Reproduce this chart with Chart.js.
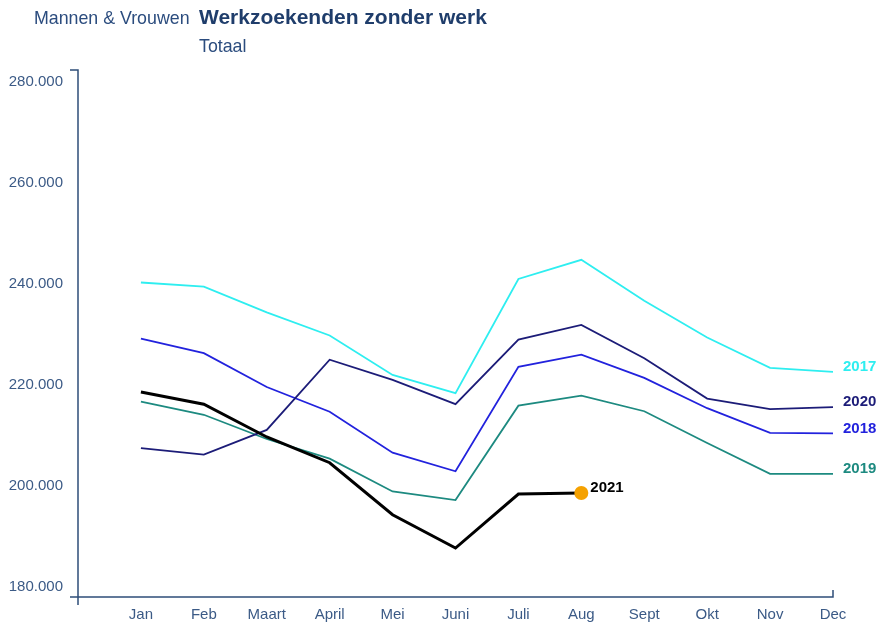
<!DOCTYPE html>
<html>
<head>
<meta charset="utf-8">
<script src="https://cdn.jsdelivr.net/npm/chart.js@4"></script>
<style>
    html, body { margin: 0; padding: 0; background: #fff; }
    #wrap { position: relative; width: 878px; height: 623px; font-family: "Liberation Sans", Arial, sans-serif; }
    #chart { position: absolute; left: 0; top: 0; }
    .t { position: absolute; white-space: nowrap; }
</style>
</head>
<body>
<div id="wrap">
    <canvas id="chart" width="878" height="623"></canvas>
    <div class="t" style="left:34px; top:8px; font-size:17.8px; color:#2b4c7e;">Mannen &amp; Vrouwen</div>
    <div class="t" style="left:199px; top:5px; font-size:21px; font-weight:bold; color:#1f3d6b;">Werkzoekenden zonder werk</div>
    <div class="t" style="left:199px; top:36px; font-size:17.8px; color:#2b4c7e;">Totaal</div>
</div>
<script>
// Month labels (x = 1..12)
const months = ['Jan', 'Feb', 'Maart', 'April', 'Mei', 'Juni', 'Juli', 'Aug', 'Sept', 'Okt', 'Nov', 'Dec'];
const yTicks = [180000, 200000, 220000, 240000, 260000, 280000];

// Werkzoekenden per jaar
const y2017 = [240300, 239500, 234400, 229800, 222000, 218400, 241000, 244800, 236700, 229400, 223400, 222600];
const y2018 = [229200, 226300, 219600, 214700, 206600, 202900, 223600, 226000, 221400, 215400, 210500, 210400];
const y2019 = [216700, 214100, 209300, 205400, 198900, 197200, 215900, 217900, 214800, 208500, 202400, 202400];
const y2020 = [207500, 206200, 211100, 225000, 221000, 216200, 229000, 231900, 225300, 217300, 215200, 215600];
const y2021 = [218600, 216200, 209700, 204600, 194300, 187700, 198400, 198600];

const series = [
    { label: '2021', data: y2021, color: '#000000', width: 3 },
    { label: '2017', data: y2017, color: '#2eeef0', width: 1.8 },
    { label: '2020', data: y2020, color: '#1c1c78', width: 1.8 },
    { label: '2018', data: y2018, color: '#2222dd', width: 1.8 },
    { label: '2019', data: y2019, color: '#1d8a80', width: 1.8 }
];

const axisColor = '#2e4d78';
const tickColor = '#3b5a86';

function fmt(v) {
    return String(v).replace(/\B(?=(\d{3})+(?!\d))/g, '.');
}

/**
 * Axis lines drawn like the original (outer ticks at the ends)
 */
const axisLines = {
    id: 'axisLines',
    afterDraw(chart) {
        const ctx = chart.ctx;
        const a = chart.chartArea;
        ctx.save();
        ctx.strokeStyle = axisColor;
        ctx.lineWidth = 1.5;
        ctx.beginPath();
        // y axis
        ctx.moveTo(a.left - 8, a.top);
        ctx.lineTo(a.left, a.top);
        ctx.lineTo(a.left, a.bottom + 8);
        // x axis
        ctx.moveTo(a.left - 8, a.bottom);
        ctx.lineTo(a.right, a.bottom);
        ctx.lineTo(a.right, a.bottom - 7);
        ctx.stroke();
        ctx.restore();
    }
};

/**
 * Year labels at the end of each line
 */
const endLabels = {
    id: 'endLabels',
    afterDatasetsDraw(chart) {
        const ctx = chart.ctx;
        const xs = chart.scales.x;
        const ys = chart.scales.y;
        ctx.save();
        ctx.font = 'bold 15px "Liberation Sans", Arial, sans-serif';
        ctx.textBaseline = 'middle';
        ctx.textAlign = 'left';
        series.forEach(s => {
            const n = s.data.length;
            const x = xs.getPixelForValue(n);
            const y = ys.getPixelForValue(s.data[n - 1]);
            ctx.fillStyle = s.color;
            ctx.fillText(s.label, x + (n < 12 ? 9 : 10), y - 5);
        });
        ctx.restore();
    }
};

const datasets = series.map(s => ({
    label: s.label,
    data: s.data.map((v, i) => ({ x: i + 1, y: v })),
    borderColor: s.color,
    borderWidth: s.width,
    tension: 0,
    fill: false,
    pointRadius: s.label === '2021' ? s.data.map((v, i) => i === s.data.length - 1 ? 7 : 0) : 0,
    pointBackgroundColor: '#f5a100',
    pointBorderWidth: 0,
    pointHoverRadius: 0
}));

new Chart(document.getElementById('chart'), {
    type: 'line',
    data: { datasets: datasets },
    options: {
        responsive: false,
        animation: false,
        layout: { padding: { left: 0, top: 70, right: 45, bottom: 0 } },
        plugins: {
            legend: { display: false },
            tooltip: { enabled: false }
        },
        scales: {
            x: {
                type: 'linear',
                min: 0,
                max: 12,
                grid: { display: false, drawTicks: false },
                border: { display: false },
                afterFit(scale) { scale.height = 26; },
                afterBuildTicks(scale) {
                    scale.ticks = months.map((m, i) => ({ value: i + 1 }));
                },
                ticks: {
                    autoSkip: false,
                    maxRotation: 0,
                    padding: 9,
                    color: tickColor,
                    font: { family: '"Liberation Sans", Arial, sans-serif', size: 15 },
                    callback: v => months[v - 1] || ''
                }
            },
            y: {
                min: 178000,
                max: 282400,
                grid: { display: false, drawTicks: false },
                border: { display: false },
                afterFit(scale) { scale.width = 78; },
                afterBuildTicks(scale) {
                    scale.ticks = yTicks.map(v => ({ value: v }));
                },
                ticks: {
                    padding: 15,
                    color: tickColor,
                    font: { family: '"Liberation Sans", Arial, sans-serif', size: 15 },
                    callback: v => fmt(v)
                }
            }
        }
    },
    plugins: [axisLines, endLabels]
});
</script>
</body>
</html>
